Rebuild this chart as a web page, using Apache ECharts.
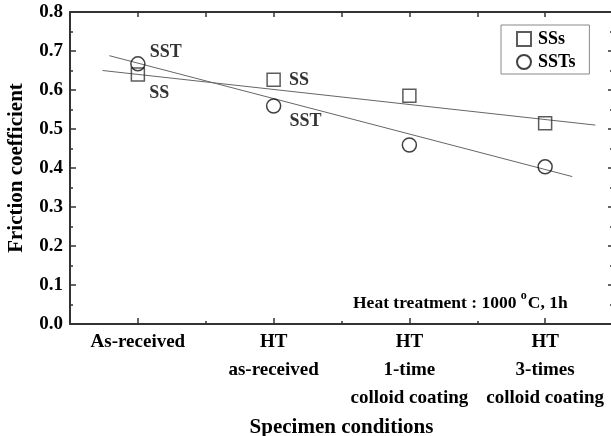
<!DOCTYPE html>
<html>
<head>
<meta charset="utf-8">
<script src="https://cdn.jsdelivr.net/npm/echarts@6/dist/echarts.min.js"></script>
<style>
html,body{margin:0;padding:0;background:#fff;}
#main{width:611px;height:436px;}
</style>
</head>
<body>
<div id="main"></div>
<script>
// ---- data ----
var categories = ['As-received', 'HT\nas-received', 'HT\n1-time\ncolloid coating', 'HT\n3-times\ncolloid coating'];
var ssValues  = [0.640, 0.626, 0.585, 0.515];
var sstValues = [0.667, 0.559, 0.459, 0.403];
var ssTrendX  = [-0.26, 3.37];
var ssTrendY  = [0.650, 0.510];
var sstTrendX = [-0.21, 3.20];
var sstTrendY = [0.688, 0.378];
var yMin = 0, yMax = 0.8, yStep = 0.1;
var seriesNames = ['SSs', 'SSTs'];
var pointLabels = { ss: ['SS', 'SS', '', ''], sst: ['SST', 'SST', '', ''] };

var FONT = '"Liberation Serif","Times New Roman",serif';
var chart = echarts.init(document.getElementById('main'), null, {renderer: 'canvas'});

function pairs(xs, ys) { return xs.map(function (x, i) { return [x, ys[i]]; }); }

var ssLabelOffsets  = [[4, 19], [8, 0]];
var sstLabelOffsets = [[4, -12], [8, 15]];

function pointData(vals, labels, offsets) {
  return vals.map(function (v, i) {
    var d = { value: [i, v] };
    if (labels[i]) {
      d.label = { show: true, formatter: labels[i], position: 'right', distance: 0, offset: offsets[i] };
    }
    return d;
  });
}

var labelStyle = { fontFamily: FONT, fontWeight: 'bold', fontSize: 18, color: '#000' };

var option = {
  backgroundColor: '#fff',
  animation: false,
  grid: { left: 70, top: 12, right: -2, bottom: 112, containLabel: false, outerBoundsMode: 'none' },
  legend: {
    data: seriesNames,
    orient: 'vertical',
    left: 501, top: 25,
    padding: [5, 14, 3, 15],
    itemWidth: 14, itemHeight: 14, itemGap: 5,
    borderColor: '#888', borderWidth: 1,
    textStyle: { fontFamily: FONT, fontWeight: 'bold', fontSize: 18, color: '#000', padding: [0, 0, 0, 2] }
  },
  xAxis: [
    { // value axis used by series, minor ticks at bottom
      type: 'value', position: 'bottom', min: -0.5, max: 3.5, interval: 0.5,
      axisLine: { show: true, onZero: false, lineStyle: { color: '#333', width: 2 } },
      axisTick: { show: true, inside: true, length: 3, lineStyle: { color: '#333', width: 1.5 } },
      axisLabel: { show: false }, splitLine: { show: false }
    },
    { // category axis for labels and major ticks
      type: 'category', position: 'bottom', data: categories, boundaryGap: true,
      axisLine: { show: false, onZero: false },
      axisTick: { show: true, inside: true, alignWithLabel: true, length: 6, lineStyle: { color: '#333', width: 1.5 } },
      axisLabel: { show: true, margin: 4, interval: 0, fontFamily: FONT, fontWeight: 'bold', fontSize: 19, lineHeight: 28, color: '#000' },
      name: 'Specimen conditions', nameLocation: 'middle', nameGap: 88,
      nameTextStyle: { fontFamily: FONT, fontWeight: 'bold', fontSize: 21, color: '#000' },
      splitLine: { show: false }
    },
    { // mirrored top axis
      type: 'value', position: 'top', min: -0.5, max: 3.5, interval: 0.5,
      axisLine: { show: true, onZero: false, lineStyle: { color: '#333', width: 2 } },
      axisTick: { show: true, inside: true, length: 5, lineStyle: { color: '#333', width: 1.5 } },
      axisLabel: { show: false }, splitLine: { show: false }
    }
  ],
  yAxis: [
    {
      type: 'value', position: 'left', min: yMin, max: yMax, interval: yStep,
      axisLine: { show: true, onZero: false, lineStyle: { color: '#333', width: 2 } },
      axisTick: { show: true, inside: true, length: 6, lineStyle: { color: '#333', width: 1.5 } },
      minorTick: { show: true, splitNumber: 2, length: 3, lineStyle: { color: '#333', width: 1.5 } },
      axisLabel: { show: true, margin: 7, fontFamily: FONT, fontWeight: 'bold', fontSize: 19, color: '#000',
        formatter: function (v) { return v.toFixed(1); } },
      name: 'Friction coefficient', nameLocation: 'middle', nameGap: 43, nameRotate: 90,
      nameTextStyle: { fontFamily: FONT, fontWeight: 'bold', fontSize: 21, color: '#000' },
      splitLine: { show: false }
    },
    {
      type: 'value', position: 'right', min: yMin, max: yMax, interval: yStep,
      axisLine: { show: true, onZero: false, lineStyle: { color: '#333', width: 2 } },
      axisTick: { show: true, inside: true, length: 5, lineStyle: { color: '#333', width: 1.5 } },
      minorTick: { show: true, splitNumber: 2, length: 3, lineStyle: { color: '#333', width: 1.5 } },
      axisLabel: { show: false }, splitLine: { show: false }
    }
  ],
  graphic: [
    {
      type: 'text', left: 353, top: 290, z: 10,
      style: {
        text: '{a|Heat treatment : 1000 }{s|o}{a|C, 1h}',
        rich: {
          a: { fontFamily: FONT, fontWeight: 'bold', fontSize: 17.5, fill: '#000', verticalAlign: 'bottom', lineHeight: 22 },
          s: { fontFamily: FONT, fontWeight: 'bold', fontSize: 12, fill: '#000', verticalAlign: 'top', lineHeight: 22, padding: [0, 1, 10, 0] }
        }
      }
    }
  ],
  series: [
    {
      name: 'SS trend', type: 'line', xAxisIndex: 0, yAxisIndex: 0,
      data: pairs(ssTrendX, ssTrendY), showSymbol: false, symbol: 'none',
      lineStyle: { color: '#666', width: 1 }, silent: true, z: 1
    },
    {
      name: 'SST trend', type: 'line', xAxisIndex: 0, yAxisIndex: 0,
      data: pairs(sstTrendX, sstTrendY), showSymbol: false, symbol: 'none',
      lineStyle: { color: '#666', width: 1 }, silent: true, z: 1
    },
    {
      name: seriesNames[0], type: 'scatter', xAxisIndex: 0, yAxisIndex: 0,
      symbol: 'rect', symbolSize: 13,
      itemStyle: { color: 'rgba(255,255,255,0)', borderColor: '#333', borderWidth: 1.5 },
      label: labelStyle,
      data: pointData(ssValues, pointLabels.ss, ssLabelOffsets), z: 3
    },
    {
      name: seriesNames[1], type: 'scatter', xAxisIndex: 0, yAxisIndex: 0,
      symbol: 'circle', symbolSize: 14,
      itemStyle: { color: 'rgba(255,255,255,0)', borderColor: '#111', borderWidth: 1.5 },
      label: labelStyle,
      data: pointData(sstValues, pointLabels.sst, sstLabelOffsets), z: 3
    }
  ]
};
chart.setOption(option);
</script>
</body>
</html>
